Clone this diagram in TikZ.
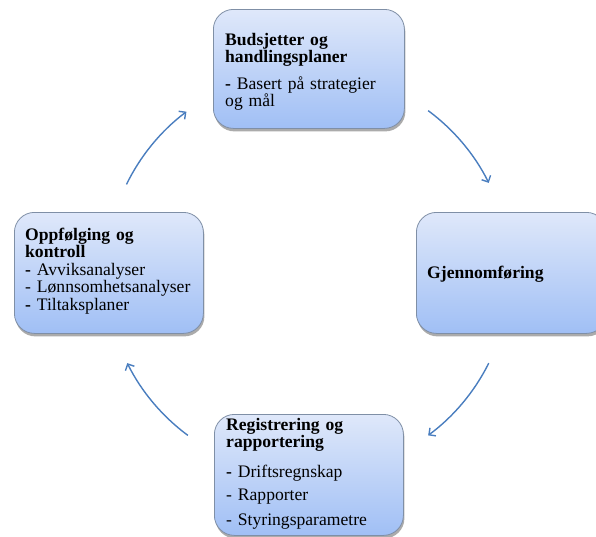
\documentclass[tikz,border=0pt]{standalone}
\usepackage{fontspec}
\setmainfont{Liberation Serif}
\usetikzlibrary{arrows.meta,shadows}
\definecolor{boxtop}{HTML}{DFE8FA}
\definecolor{boxbot}{HTML}{A0BFF5}
\definecolor{boxline}{HTML}{7F8FA6}
\definecolor{arrowblue}{HTML}{4A7EBF}
\tikzset{
 cyclebox/.style={draw=boxline, line width=0.8pt, rounded corners=20pt, top color=boxtop, bottom color=boxbot, anchor=north west, inner sep=0pt, drop shadow={shadow xshift=1pt, shadow yshift=-3pt, opacity=0.6, fill=black!55}},
 boxtext/.style={anchor=base west, align=left, text width=178pt, inner sep=0pt, font=\fontsize{17.6}{17.5}\selectfont},
 cyclearrow/.style={draw=arrowblue, line width=1.4pt, -{Straight Barb[length=5pt,width=10pt]}}
}
\begin{document}
\begin{tikzpicture}[x=1pt,y=-1pt]
\useasboundingbox (0,0) rectangle (596,536);
\clip (0,0) rectangle (596,536);
\node[cyclebox, minimum width=191pt, minimum height=119pt] (plan) at (213,9) {};
\node[cyclebox, minimum width=190pt, minimum height=121pt] (exec) at (416,212) {};
\node[cyclebox, minimum width=189pt, minimum height=121pt] (report) at (214,414) {};
\node[cyclebox, minimum width=189pt, minimum height=121pt] (control) at (14,212) {};

\node[boxtext] (plantext) at (225,45) {\textbf{Budsjetter og}\\\textbf{handlingsplaner}\\[9pt]\textbf{-} Basert på strategier\\og mål};
\node[boxtext] (exectext) at (427,278) {\textbf{Gjennomføring}};
\node[boxtext] (reporttext) at (226,430) {\textbf{Registrering og}\\\textbf{rapportering}\\[12pt]\textbf{-} Driftsregnskap\\[6pt]- Rapporter\\[7pt]- Styringsparametre};
\node[boxtext] (controltext) at (25,240) {\textbf{Oppfølging og}\\\textbf{kontroll}\\\textbf{-} Avviksanalyser\\- Lønnsomhetsanalyser\\\textbf{-} Tiltaksplaner};

\coordinate (hub) at (308,273);
\draw[cyclearrow] (hub) ++(206:202) coordinate (a1) arc[start angle=206, end angle=233, radius=202];
\draw[cyclearrow] (hub) ++(306.5:202) coordinate (a2) arc[start angle=306.5, end angle=333.5, radius=202];
\draw[cyclearrow] (hub) ++(26.5:202) coordinate (a3) arc[start angle=26.5, end angle=53.5, radius=202];
\draw[cyclearrow] (hub) ++(126.5:202) coordinate (a4) arc[start angle=126.5, end angle=153.5, radius=202];
\end{tikzpicture}
\end{document}
